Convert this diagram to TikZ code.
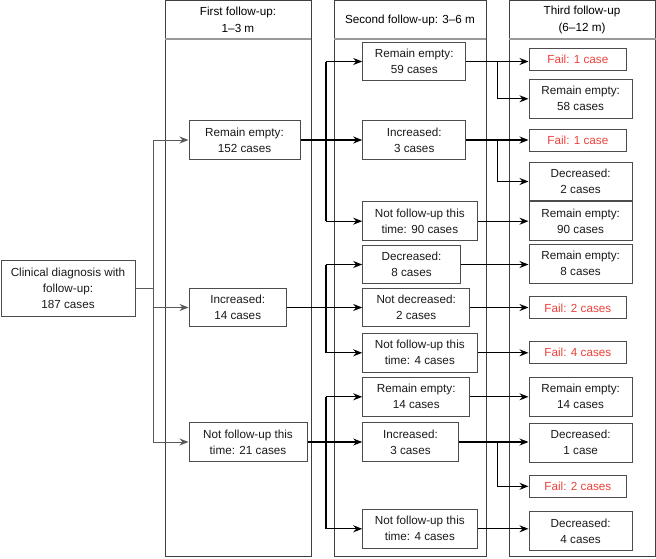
\documentclass[tikz,border=0pt]{standalone}
\usepackage{fontspec}
\setmainfont{Liberation Sans}
\usetikzlibrary{arrows.meta}
\definecolor{failred}{RGB}{236,64,58}
\begin{document}
\begin{tikzpicture}[x=1pt,y=-1pt,
  box/.style={draw=black!70, line width=1pt, align=center, inner sep=0pt,
    font=\fontsize{11.7}{16}\selectfont, text=black!90, minimum height=38.6pt},
  fail/.style={box, text=failred, minimum height=22pt},
  panel/.style={draw=black!75, line width=1pt},
  sep/.style={draw=black!40, line width=1.6pt},
  head/.style={align=center, inner sep=0pt, font=\fontsize{11.7}{16.6}\selectfont},
  conn/.style={draw=black!65, line width=1pt},
  arr/.style={conn, -{Stealth[length=9pt,width=7pt]}},
  conn2/.style={draw=black, line width=1.15pt},
  arr2/.style={conn2, -{Stealth[length=9pt,width=7pt]}},
]
\useasboundingbox (0,0) rectangle (656,558);

% panels
\draw[panel] (165,0.5) rectangle (311,556.5);
\draw[panel] (334,0.5) rectangle (486,556.5);
\draw[panel] (509,0.5) rectangle (655.5,556.5);
\draw[sep] (165,39) -- (311,39);
\draw[sep] (334,39) -- (486,39);
\draw[sep] (509,39) -- (655.5,39);
\node[head] (h1) at (238,20) {First follow-up:\\1--3 m};
\node[head] (h2) at (410,20) {Second follow-up: 3--6 m};
\node[head] (h3) at (582,20) {Third follow-up\\(6--12 m)};

% column 0
\node[box, minimum width=134pt, minimum height=56pt] (clin) at (68,288) {Clinical diagnosis with\\follow-up:\\187 cases};

% column 1
\node[box, minimum width=111pt] (c1a) at (244.5,140) {Remain empty:\\152 cases};
\node[box, minimum width=97.3pt] (c1b) at (237.7,307.5) {Increased:\\14 cases};
\node[box, minimum width=118pt] (c1c) at (248,442) {Not follow-up this\\time: 21 cases};

% column 2
\node[box, minimum width=103pt] (c2a) at (414.2,61.5) {Remain empty:\\59 cases};
\node[box, minimum width=103pt] (c2b) at (414.2,140) {Increased:\\3 cases};
\node[box, minimum width=114.3pt] (c2c) at (419.85,221.2) {Not follow-up this\\time: 90 cases};
\node[box, minimum width=97.6pt] (c2d) at (411.5,264.5) {Decreased:\\8 cases};
\node[box, minimum width=107pt] (c2e) at (416.2,307.5) {Not decreased:\\2 cases};
\node[box, minimum width=114.3pt] (c2f) at (419.85,352.8) {Not follow-up this\\time: 4 cases};
\node[box, minimum width=107pt] (c2g) at (416.2,396.8) {Remain empty:\\14 cases};
\node[box, minimum width=95.6pt] (c2h) at (410.5,442) {Increased:\\3 cases};
\node[box, minimum width=114.3pt] (c2i) at (419.85,528.8) {Not follow-up this\\time: 4 cases};

% column 3
\node[fail, minimum width=97.7pt] (c3a) at (577.85,59.5) {Fail: 1 case};
\node[box, minimum width=103.3pt] (c3b) at (580.65,98.8) {Remain empty:\\58 cases};
\node[fail, minimum width=97.7pt] (c3c) at (577.85,140.2) {Fail: 1 case};
\node[box, minimum width=103.3pt] (c3d) at (580.65,181.5) {Decreased:\\2 cases};
\node[box, minimum width=103.3pt] (c3e) at (580.65,221.2) {Remain empty:\\90 cases};
\node[box, minimum width=103.3pt] (c3f) at (580.65,263.7) {Remain empty:\\8 cases};
\node[fail, minimum width=97.7pt] (c3g) at (577.85,307.85) {Fail: 2 cases};
\node[fail, minimum width=97.7pt] (c3h) at (577.85,352.7) {Fail: 4 cases};
\node[box, minimum width=103.3pt] (c3i) at (580.65,396.8) {Remain empty:\\14 cases};
\node[box, minimum width=103.3pt] (c3j) at (580.65,442.7) {Decreased:\\1 case};
\node[fail, minimum width=97.7pt] (c3k) at (577.85,486.3) {Fail: 2 cases};
\node[box, minimum width=103.3pt] (c3l) at (580.65,531) {Decreased:\\4 cases};

% junction columns
\coordinate (j0) at (153,288);
\coordinate (j1) at (326,0);
\coordinate (j2) at (497.5,0);

% clinical -> column 1
\draw[conn] (clin.east) -- (j0);
\draw[conn] (j0 |- c1a.west) -- (j0 |- c1c.west);
\draw[arr] (j0 |- c1a.west) -- (c1a.west);
\draw[arr] (j0 |- c1b.west) -- (c1b.west);
\draw[arr] (j0 |- c1c.west) -- (c1c.west);

% column 1 -> column 2
\draw[conn2] (c1a.east) -- (j1 |- c1a.east);
\draw[conn2] (j1 |- c2a.west) -- (j1 |- c2c.west);
\draw[arr2] (j1 |- c2a.west) -- (c2a.west);
\draw[arr2] (j1 |- c1a.east) -- (c1a.east -| c2b.west);
\draw[arr2] (j1 |- c2c.west) -- (c2c.west);

\draw[conn2] (c1b.east) -- (j1 |- c1b.east);
\draw[conn2] (j1 |- c2d.west) -- (j1 |- c2f.west);
\draw[arr2] (j1 |- c2d.west) -- (c2d.west);
\draw[arr2] (j1 |- c1b.east) -- (c1b.east -| c2e.west);
\draw[arr2] (j1 |- c2f.west) -- (c2f.west);

\draw[conn2] (c1c.east) -- (j1 |- c1c.east);
\draw[conn2] (j1 |- c2g.west) -- (j1 |- c2i.west);
\draw[arr2] (j1 |- c2g.west) -- (c2g.west);
\draw[arr2] (j1 |- c1c.east) -- (c1c.east -| c2h.west);
\draw[arr2] (j1 |- c2i.west) -- (c2i.west);

% column 2 -> column 3
\draw[arr2] (c2a.east) -- (c2a.east -| c3a.west);
\draw[arr2] (j2 |- c2a.east) |- (c3b.west);
\draw[arr2] (c2b.east) -- (c2b.east -| c3c.west);
\draw[arr2] (j2 |- c2b.east) |- (c3d.west);
\draw[arr2] (c2c.east) -- (c2c.east -| c3e.west);
\draw[arr2] (c2d.east) -- (c2d.east -| c3f.west);
\draw[arr2] (c2e.east) -- (c2e.east -| c3g.west);
\draw[arr2] (c2f.east) -- (c2f.east -| c3h.west);
\draw[arr2] (c2g.east) -- (c2g.east -| c3i.west);
\draw[arr2] (c2h.east) -- (c2h.east -| c3j.west);
\draw[arr2] (j2 |- c2h.east) |- (c3k.west);
\draw[arr2] (c2i.east) -- (c2i.east -| c3l.west);
\end{tikzpicture}
\end{document}
